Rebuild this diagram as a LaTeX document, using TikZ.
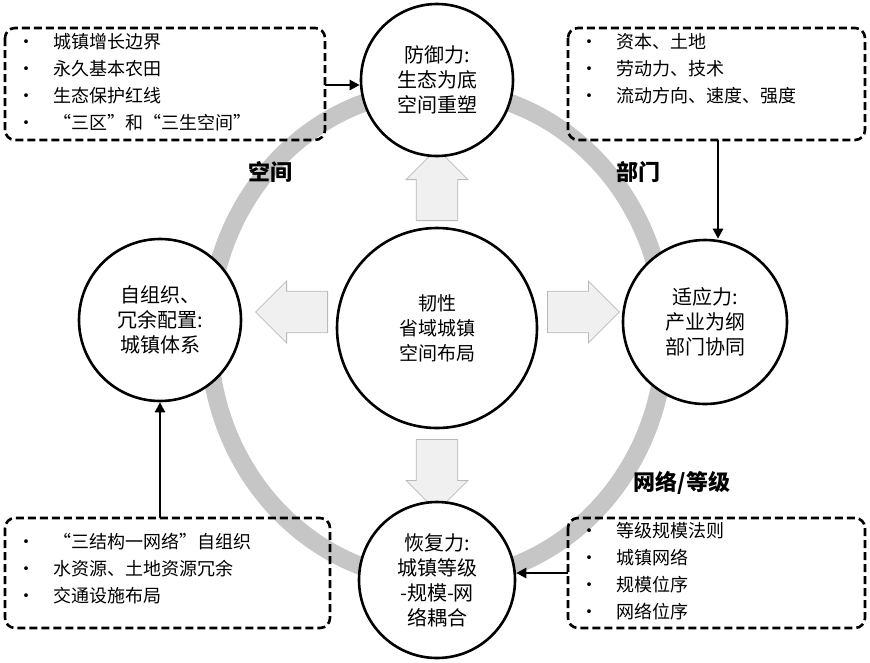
\documentclass[tikz,border=0pt]{standalone}
\usepackage{fontspec}
\setmainfont{Noto Sans CJK SC}
\usetikzlibrary{shapes.arrows,arrows.meta}
\begin{document}
\begin{tikzpicture}[x=1pt,y=-1pt,
 circ/.style={circle,draw,line width=2.6pt,fill=white,align=center,inner sep=0pt,font=\fontsize{20}{25}\selectfont},
 dbox/.style={draw,line width=2.6pt,rounded corners=10pt,dash pattern=on 8pt off 4pt},
 hol/.style={single arrow,draw=gray!55,fill=gray!12,line width=0.8pt,minimum height=72pt,minimum width=62pt,single arrow head extend=10pt,inner sep=20pt},
 conn/.style={-{Triangle[length=10pt,width=10pt]},line width=2.4pt},
 lst/.style={anchor=north west,align=left,font=\fontsize{18}{27}\selectfont},
 lab/.style={font=\bfseries\fontsize{22}{26}\selectfont}]
\useasboundingbox (0,0) rectangle (870,662);
\draw[gray!45,line width=18pt] (437,335) ellipse (228 and 245);
\node[hol,shape border rotate=90] (au) at (437,195) {};
\node[hol,shape border rotate=180] (al) at (302,312) {};
\node[hol] (ar) at (573,312) {};
\node[hol,shape border rotate=270] (ad) at (437,465) {};
\node[circ,minimum size=152pt] (top) at (437,80) {防御力:\\生态为底\\空间重塑};
\node[circ,minimum size=200pt,font=\fontsize{19}{25}\selectfont] (mid) at (437,328) {韧性\\省域城镇\\空间布局};
\node[circ,minimum size=162pt] (left) at (160,320) {自组织、\\冗余配置:\\城镇体系};
\node[circ,minimum size=164pt] (right) at (705,322) {适应力:\\产业为纲\\部门协同};
\node[circ,minimum size=156pt] (bot) at (437,580) {恢复力:\\城镇等级\\-规模-网\\络耦合};
\draw[dbox] (5,28) rectangle (325,140);
\node[lst] (tl) at (14,30) {•\quad 城镇增长边界\\•\quad 永久基本农田\\•\quad 生态保护红线\\•\quad “三区”和“三生空间”};
\draw[dbox] (568,28) rectangle (865,140);
\node[lst] (tr) at (577,30) {•\quad 资本、土地\\•\quad 劳动力、技术\\•\quad 流动方向、速度、强度};
\draw[dbox] (5,518) rectangle (330,628);
\node[lst] (bl) at (14,530) {•\quad “三结构一网络”自组织\\•\quad 水资源、土地资源冗余\\•\quad 交通设施布局};
\draw[dbox] (568,518) rectangle (865,628);
\node[lst] (br) at (577,519) {•\quad 等级规模法则\\•\quad 城镇网络\\•\quad 规模位序\\•\quad 网络位序};
\coordinate (c1) at (325,85); \coordinate (c2) at (718,140);
\coordinate (c3) at (568,573); \coordinate (c4) at (160,518);
\draw[conn] (c1) -- (top.west|-c1);
\draw[conn] (c2) -- (c2|-right.north);
\draw[conn] (c3) -- (bot.east|-c3);
\draw[conn] (c4) -- (left.south);
\node[lab] (s) at (270,172) {空间};
\node[lab] (b) at (638,172) {部门};
\node[lab] (n) at (682,483) {网络/等级};
\end{tikzpicture}
\end{document}
